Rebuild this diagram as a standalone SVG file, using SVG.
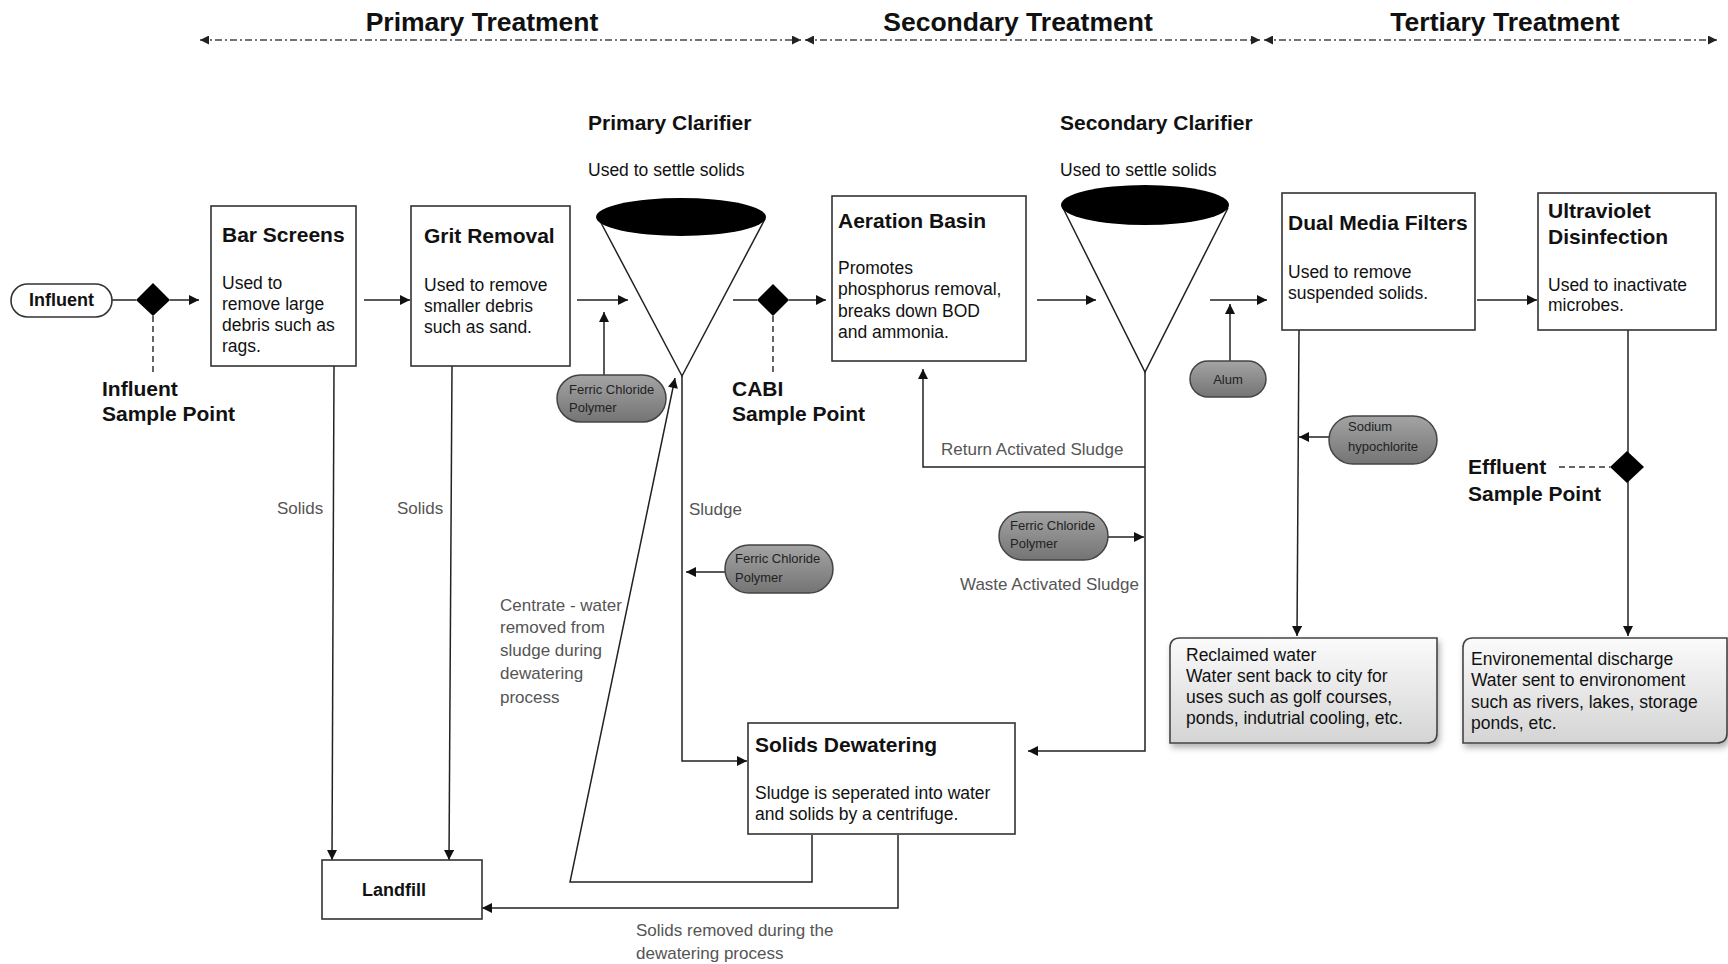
<svg xmlns="http://www.w3.org/2000/svg" width="1728" height="964" viewBox="0 0 1728 964">
<defs>
<style>
text{font-family:"Liberation Sans",Arial,Helvetica,sans-serif;fill:#111}
.hd{font-size:26.5px;font-weight:bold;text-anchor:middle}
.t{font-size:21px;font-weight:bold}
.b{font-size:17.5px}
.sp{font-size:21px;font-weight:bold}
.g{font-size:17px;fill:#555}
.pt{font-size:13px;fill:#222}
.box{fill:#fff;stroke:#333;stroke-width:1.6}
.pill{fill:url(#pg);stroke:#444;stroke-width:1.5}
.out{fill:url(#og);stroke:#444;stroke-width:1.6}
.ln{fill:none;stroke:#222;stroke-width:1.5}
.ar{fill:none;stroke:#222;stroke-width:1.5;marker-end:url(#ah)}
.dash{fill:none;stroke:#333;stroke-width:1.5;stroke-dasharray:6 4}
.hl{fill:none;stroke:#444;stroke-width:1.3;stroke-dasharray:7 3 2 3;marker-start:url(#hs);marker-end:url(#ah2)}
</style>
<marker id="ah" viewBox="0 0 10 10" refX="10" refY="5" markerWidth="11" markerHeight="10" markerUnits="userSpaceOnUse" orient="auto"><path d="M0,0 L10,5 L0,10 Z" fill="#111"/></marker>
<marker id="ah2" viewBox="0 0 10 10" refX="10" refY="5" markerWidth="10" markerHeight="9" markerUnits="userSpaceOnUse" orient="auto"><path d="M0,0 L10,5 L0,10 Z" fill="#222"/></marker>
<marker id="hs" viewBox="0 0 10 10" refX="0" refY="5" markerWidth="10" markerHeight="9" markerUnits="userSpaceOnUse" orient="auto"><path d="M10,0 L0,5 L10,10 Z" fill="#222"/></marker>
<linearGradient id="pg" x1="0" y1="0" x2="0" y2="1"><stop offset="0" stop-color="#a4a4a4"/><stop offset="1" stop-color="#747474"/></linearGradient>
<linearGradient id="og" x1="0" y1="0" x2="0" y2="1"><stop offset="0" stop-color="#fbfbfb"/><stop offset="1" stop-color="#d4d4d4"/></linearGradient>
<filter id="sh" x="-10%" y="-10%" width="130%" height="140%"><feDropShadow dx="2" dy="4" stdDeviation="3" flood-color="#000" flood-opacity="0.3"/></filter>
</defs>
<rect width="1728" height="964" fill="#fff"/>

<g id="headers">
<text class="hd" x="482" y="31">Primary Treatment</text>
<text class="hd" x="1018" y="31">Secondary Treatment</text>
<text class="hd" x="1505" y="31">Tertiary Treatment</text>
<path class="hl" d="M200,40 H801"/>
<path class="hl" d="M805,40 H1260"/>
<path class="hl" d="M1264,40 H1717"/>
</g>

<g id="connectors">
<path class="ln" d="M112,300 H136"/>
<path class="ar" d="M170,300 H199"/>
<path class="dash" d="M153,316 V372"/>
<path class="ar" d="M364,300 H410"/>
<path class="ar" d="M577,300 H628"/>
<path class="ar" d="M604,375 V312"/>
<path class="ln" d="M733,300 H757"/>
<path class="ar" d="M789,300 H826"/>
<path class="dash" d="M773,316 V372"/>
<path class="ar" d="M1037,300 H1096"/>
<path class="ar" d="M1210,300 H1267"/>
<path class="ar" d="M1230,361 V304"/>
<path class="ar" d="M1477,300 H1537"/>
<path class="ar" d="M682,376 V761 H747"/>
<path class="ar" d="M725,572 H686"/>
<path class="ar" d="M812,835 V882 H570 L675,378"/>
<path class="ar" d="M898,835 V908 H482"/>
<path class="ar" d="M334,366 L332,860"/>
<path class="ar" d="M452,366 L449,860"/>
<path class="ar" d="M1145,372 V751 H1028"/>
<path class="ar" d="M1145,467 H923 V369"/>
<path class="ar" d="M1108,537 H1144"/>
<path class="ar" d="M1299,330 L1297,636"/>
<path class="ar" d="M1329,437 H1299"/>
<path class="ar" d="M1628,330 V636"/>
<path class="dash" d="M1559,467 H1610"/>
</g>

<g id="influent">
<rect x="11" y="284" width="101" height="33" rx="16.5" fill="#fff" stroke="#333" stroke-width="1.6"/>
<text x="61.5" y="306" style="font-size:18px;font-weight:bold;text-anchor:middle">Influent</text>
</g>
<g id="influent-sample">
<path d="M153,283 L170,300 L153,316 L136,300 Z" fill="#000"/>
<text class="sp" x="102" y="396">Influent</text>
<text class="sp" x="102" y="421">Sample Point</text>
</g>

<g id="bar-screens">
<rect class="box" x="211" y="206" width="145" height="160"/>
<text class="t" x="222" y="242">Bar Screens</text>
<text class="b" x="222" y="289">Used to</text>
<text class="b" x="222" y="310">remove large</text>
<text class="b" x="222" y="331">debris such as</text>
<text class="b" x="222" y="352">rags.</text>
</g>

<g id="grit-removal">
<rect class="box" x="411" y="206" width="159" height="160"/>
<text class="t" x="424" y="243">Grit Removal</text>
<text class="b" x="424" y="291">Used to remove</text>
<text class="b" x="424" y="312">smaller debris</text>
<text class="b" x="424" y="333">such as sand.</text>
</g>

<g id="primary-clarifier">
<text class="t" x="588" y="130">Primary Clarifier</text>
<text class="b" x="588" y="176">Used to settle solids</text>
<path d="M599,219 L682,376 L765,219" fill="none" stroke="#222" stroke-width="1.5"/>
<ellipse cx="681" cy="217" rx="85" ry="19" fill="#000"/>
</g>

<g id="ferric-1">
<rect class="pill" x="557" y="375" width="109" height="47" rx="23.5"/>
<text class="pt" x="569" y="394">Ferric Chloride</text>
<text class="pt" x="569" y="412">Polymer</text>
</g>

<g id="cabi-sample">
<path d="M773,284 L789,300 L773,316 L757,300 Z" fill="#000"/>
<text class="sp" x="732" y="396">CABI</text>
<text class="sp" x="732" y="421">Sample Point</text>
</g>

<g id="aeration-basin">
<rect class="box" x="832" y="196" width="194" height="165"/>
<text class="t" x="838" y="228">Aeration Basin</text>
<text class="b" x="838" y="274">Promotes</text>
<text class="b" x="838" y="295">phosphorus removal,</text>
<text class="b" x="838" y="317">breaks down BOD</text>
<text class="b" x="838" y="338">and ammonia.</text>
</g>

<g id="secondary-clarifier">
<text class="t" x="1060" y="130">Secondary Clarifier</text>
<text class="b" x="1060" y="176">Used to settle solids</text>
<path d="M1063,208 L1145,372 L1228,208" fill="none" stroke="#222" stroke-width="1.5"/>
<ellipse cx="1145" cy="205" rx="84" ry="20" fill="#000"/>
</g>

<g id="alum">
<rect class="pill" x="1190" y="361" width="76" height="36" rx="18"/>
<text class="pt" x="1228" y="384" style="text-anchor:middle">Alum</text>
</g>

<g id="ferric-3">
<rect class="pill" x="999" y="512" width="109" height="48" rx="24"/>
<text class="pt" x="1010" y="530">Ferric Chloride</text>
<text class="pt" x="1010" y="548">Polymer</text>
</g>

<g id="ferric-2">
<rect class="pill" x="725" y="545" width="108" height="48" rx="24"/>
<text class="pt" x="735" y="563">Ferric Chloride</text>
<text class="pt" x="735" y="582">Polymer</text>
</g>

<g id="dual-media">
<rect class="box" x="1282" y="193" width="193" height="137"/>
<text class="t" x="1288" y="230">Dual Media Filters</text>
<text class="b" x="1288" y="278">Used to remove</text>
<text class="b" x="1288" y="299">suspended solids.</text>
</g>

<g id="uv">
<rect class="box" x="1538" y="193" width="178" height="137"/>
<text class="t" x="1548" y="218">Ultraviolet</text>
<text class="t" x="1548" y="244">Disinfection</text>
<text class="b" x="1548" y="291">Used to inactivate</text>
<text class="b" x="1548" y="311">microbes.</text>
</g>

<g id="sodium">
<rect class="pill" x="1329" y="416" width="108" height="48" rx="24"/>
<text class="pt" x="1348" y="431">Sodium</text>
<text class="pt" x="1348" y="451">hypochlorite</text>
</g>

<g id="effluent-sample">
<path d="M1627,451 L1644,467 L1627,483 L1610,467 Z" fill="#000"/>
<text class="sp" x="1468" y="474">Effluent</text>
<text class="sp" x="1468" y="501">Sample Point</text>
</g>

<g id="reclaimed">
<path class="out" filter="url(#sh)" d="M1180,638 H1437 V733 Q1437,743 1427,743 H1170 V648 Q1170,638 1180,638 Z"/>
<text class="b" x="1186" y="661">Reclaimed water</text>
<text class="b" x="1186" y="682">Water sent back to city for</text>
<text class="b" x="1186" y="703">uses such as golf courses,</text>
<text class="b" x="1186" y="724">ponds, indutrial cooling, etc.</text>
</g>

<g id="environmental">
<path class="out" filter="url(#sh)" d="M1473,638 H1727 V733 Q1727,743 1717,743 H1463 V648 Q1463,638 1473,638 Z"/>
<text class="b" x="1471" y="665">Environemental discharge</text>
<text class="b" x="1471" y="686">Water sent to environoment</text>
<text class="b" x="1471" y="708">such as rivers, lakes, storage</text>
<text class="b" x="1471" y="729">ponds, etc.</text>
</g>

<g id="solids-dewatering">
<rect class="box" x="748" y="723" width="267" height="111"/>
<text class="t" x="755" y="752">Solids Dewatering</text>
<text class="b" x="755" y="799">Sludge is seperated into water</text>
<text class="b" x="755" y="820">and solids by a centrifuge.</text>
</g>

<g id="landfill">
<rect class="box" x="322" y="860" width="160" height="59"/>
<text x="394" y="896" style="font-size:18px;font-weight:bold;text-anchor:middle">Landfill</text>
</g>

<g id="labels">
<text class="g" x="277" y="514">Solids</text>
<text class="g" x="397" y="514">Solids</text>
<text class="g" x="689" y="515">Sludge</text>
<text class="g" x="500" y="611">Centrate - water</text>
<text class="g" x="500" y="633">removed from</text>
<text class="g" x="500" y="656">sludge during</text>
<text class="g" x="500" y="679">dewatering</text>
<text class="g" x="500" y="703">process</text>
<text class="g" x="941" y="455">Return Activated Sludge</text>
<text class="g" x="960" y="590">Waste Activated Sludge</text>
<text class="g" x="636" y="936">Solids removed during the</text>
<text class="g" x="636" y="959">dewatering process</text>
</g>
</svg>
